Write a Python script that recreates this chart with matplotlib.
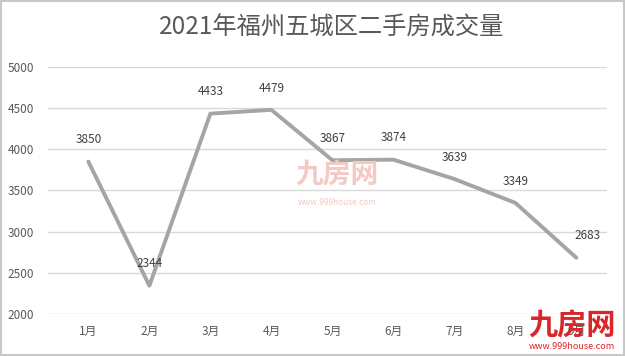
import matplotlib.pyplot as plt
from matplotlib.patches import Rectangle

plt.rcParams['font.family'] = ['Noto Sans CJK SC', 'DejaVu Sans']

months = ["1月", "2月", "3月", "4月", "5月", "6月", "7月", "8月", "9月"]
volumes = [3850, 2344, 4433, 4479, 3867, 3874, 3639, 3349, 2683]
y_ticks = [2000, 2500, 3000, 3500, 4000, 4500, 5000]

fig = plt.figure(figsize=(6.25, 3.56), dpi=100)
ax = fig.add_axes([0.077, 0.118, 0.894, 0.694])

x = list(range(len(months)))
ax.plot(x, volumes, color="#A5A5A5", linewidth=2.8, solid_capstyle="round")

# data labels above each point
for xi, v in zip(x, volumes):
    dx = 8 if xi == len(months) - 1 else 0
    ax.annotate(str(v), (xi, v), xytext=(dx, 11), textcoords="offset points",
                ha="center", va="bottom", fontsize=8.5, color="#404040")

ax.set_xlim(-0.66, len(months) - 0.5)
ax.set_ylim(2000, 5000)
ax.set_yticks(y_ticks)
ax.set_xticks(x)
ax.set_xticklabels(months)
ax.tick_params(axis="both", length=0, labelsize=8.5, labelcolor="#595959")
ax.tick_params(axis="x", pad=8)
ax.tick_params(axis="y", pad=10)
ax.grid(axis="y", color="#D9D9D9", linewidth=1)
ax.set_axisbelow(True)
for s in ax.spines.values():
    s.set_visible(False)

fig.text(0.531, 0.922, "2021年福州五城区二手房成交量", ha="center", va="center",
         fontsize=17.5, color="#595959")

# faint watermark in the middle
fig.text(0.54, 0.51, "九房网", ha="center", va="center", fontsize=20,
         color="#F3C9C4", fontweight="bold")
fig.text(0.54, 0.43, "www.999house.com", ha="center", va="center", fontsize=6,
         color="#F3C9C4")

# logo bottom right
fig.text(0.915, 0.085, "九房网", ha="center", va="center", fontsize=21,
         color="#D9262A", fontweight="bold")
fig.text(0.915, 0.028, "www.999house.com", ha="center", va="center", fontsize=6.5,
         color="#D9262A")

fig.patches.append(Rectangle((0.002, 0.003), 0.996, 0.994, transform=fig.transFigure,
                             fill=False, edgecolor="#C8C8C8", linewidth=1.5))

fig.savefig("out.png", dpi=100)
